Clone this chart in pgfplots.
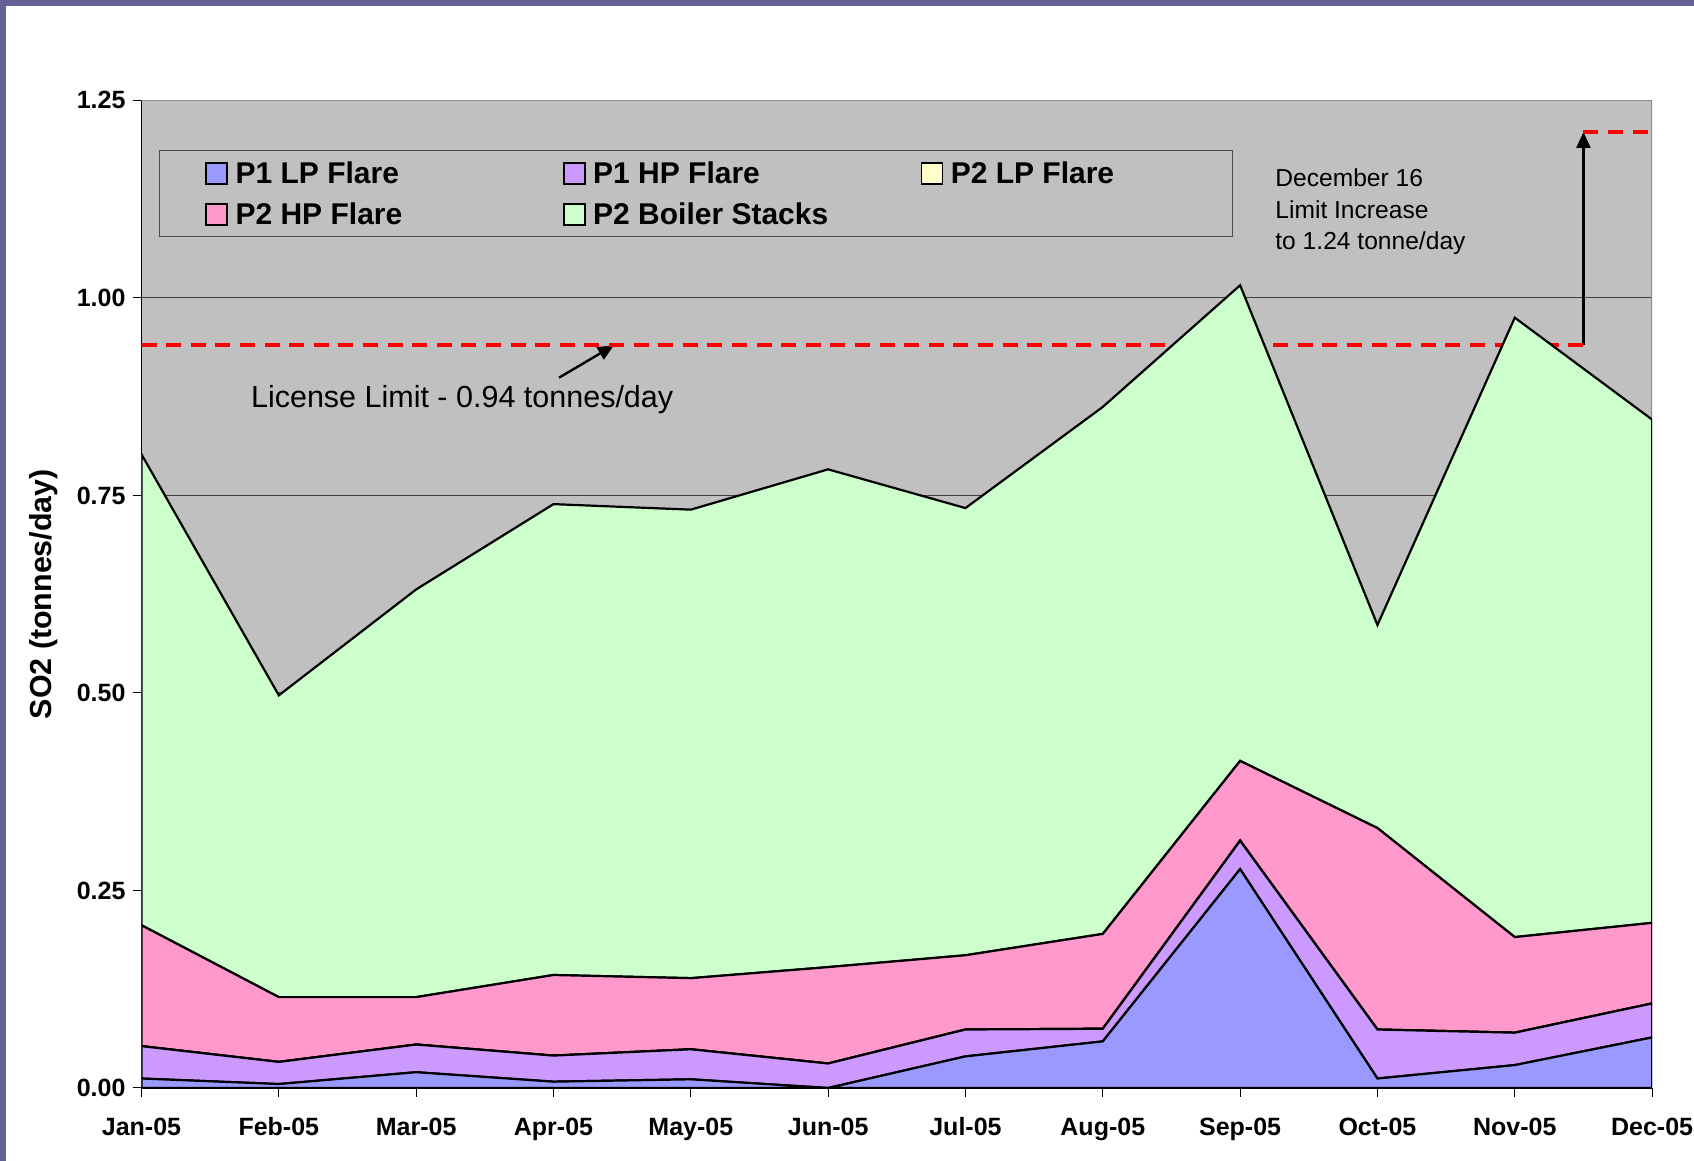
\documentclass[border=0pt]{standalone}
\usepackage{fontspec}
\setmainfont{Liberation Sans}
\usepackage{pgfplots}
\pgfplotsset{compat=1.18}
\usetikzlibrary{arrows.meta}
\definecolor{frameblue}{RGB}{98,98,150}
\definecolor{plotgray}{RGB}{192,192,192}
\definecolor{c1}{RGB}{153,153,255}
\definecolor{c2}{RGB}{204,153,255}
\definecolor{c3}{RGB}{255,255,204}
\definecolor{c4}{RGB}{255,153,204}
\definecolor{c5}{RGB}{204,255,204}
\newcommand{\ann}{\fontsize{15.25}{18}\selectfont}
\begin{document}
\begin{tikzpicture}
\path[use as bounding box] (0,0) rectangle (847pt,580.5pt);
\fill[white] (0,0) rectangle (847pt,580.5pt);
\fill[frameblue] (0,577.5pt) rectangle (847pt,580.5pt);
\fill[frameblue] (0,0) rectangle (3pt,580.5pt);
\begin{axis}[
  at={(70.75pt,36.5pt)}, anchor=south west,
  scale only axis, width=755.3pt, height=493.8pt,
  xmin=0, xmax=11, ymin=0, ymax=1.25,
  axis background/.style={fill=plotgray},
  axis x line*=bottom, axis y line*=left,
  axis line style={black, line width=0.8pt},
  xtick={0,...,11},
  xticklabels={Jan-05,Feb-05,Mar-05,Apr-05,May-05,Jun-05,Jul-05,Aug-05,Sep-05,Oct-05,Nov-05,Dec-05},
  ytick={0,0.25,0.5,0.75,1,1.25},
  yticklabel style={/pgf/number format/.cd, fixed, fixed zerofill, precision=2, assume math mode=true},
  tick align=outside, major tick length=4.5pt,
  tick style={black, line width=0.5pt},
  ticklabel style={font=\bfseries\fontsize{12.5}{14}\selectfont},
  xticklabel style={text height=9pt, text depth=2.6pt, yshift=-6.5pt},
  ymajorgrids, grid style={black!75, line width=0.5pt},
  ylabel={SO2 (tonnes/day)},
  every axis y label/.style={at={(axis description cs:-0.0649,0.5)}, rotate=90, anchor=center, font=\bfseries\fontsize{15.2}{17}\selectfont},
  stack plots=y,
  legend columns=3,
  legend image code/.code={\draw[#1, draw=black, line width=0.8pt] (0pt,-5.25pt) rectangle (10.5pt,5.25pt);},
  legend style={at={(rel axis cs:0.01145,0.9496)}, anchor=north west, fill=plotgray, draw=black!70, line width=0.6pt,
    font=\bfseries\fontsize{15}{17}\selectfont, inner xsep=23pt, inner ysep=1pt, /tikz/column sep=0pt, row sep=0pt,
    nodes={inner xsep=3.8pt, inner ysep=3.25pt, text height=12.3pt, text depth=1.7pt}},
  legend cell align=left,
]
\addplot[fill=c1, draw=black, line width=1.1pt] coordinates {(0,0.012)(1,0.005)(2,0.020)(3,0.008)(4,0.011)(5,0.0)(6,0.040)(7,0.059)(8,0.277)(9,0.012)(10,0.029)(11,0.064)} \closedcycle;
\addlegendentry{\makebox[159.9pt][l]{P1 LP Flare}}
\addplot[fill=c2, draw=black, line width=1.1pt] coordinates {(0,0.041)(1,0.028)(2,0.035)(3,0.033)(4,0.038)(5,0.031)(6,0.034)(7,0.016)(8,0.036)(9,0.062)(10,0.041)(11,0.043)} \closedcycle;
\addlegendentry{\makebox[159.9pt][l]{P1 HP Flare}}
\addplot[fill=c3, draw=black, line width=1.1pt] coordinates {(0,0)(1,0)(2,0)(3,0)(4,0)(5,0)(6,0)(7,0)(8,0)(9,0)(10,0)(11,0)} \closedcycle;
\addlegendentry{\makebox[113.9pt][l]{P2 LP Flare}}
\addplot[fill=c4, draw=black, line width=1.1pt] coordinates {(0,0.153)(1,0.082)(2,0.060)(3,0.102)(4,0.090)(5,0.122)(6,0.094)(7,0.120)(8,0.101)(9,0.255)(10,0.121)(11,0.102)} \closedcycle;
\addlegendentry{\makebox[159.9pt][l]{P2 HP Flare}}
\addplot[fill=c5, draw=black, line width=1.1pt] coordinates {(0,0.596)(1,0.382)(2,0.516)(3,0.596)(4,0.593)(5,0.630)(6,0.566)(7,0.667)(8,0.602)(9,0.257)(10,0.784)(11,0.637)} \closedcycle;
\addlegendentry{\makebox[159.9pt][l]{P2 Boiler Stacks}}
% frame top/right
\draw[black!45, line width=1pt] (rel axis cs:0,1) -- (rel axis cs:1,1) -- (rel axis cs:1,0);
% license limit
\draw[red, line width=2pt, dash pattern=on 7.5pt off 4.8pt] (axis cs:0,0.94) -- (axis cs:10.5,0.94);
\draw[red, line width=2pt, dash pattern=on 7.5pt off 4.8pt] (axis cs:10.5,1.21) -- (axis cs:11,1.21);
\draw[black, line width=1.2pt, -{Triangle[length=8pt,width=7pt]}] (axis cs:10.5,0.94) -- (axis cs:10.5,1.21);
\draw[black, line width=1.2pt, -{Triangle[length=8pt,width=7pt]}] (axis cs:3.04,0.899) -- (axis cs:3.44,0.94);
\draw[black, line width=1.2pt, -{Triangle[length=8pt,width=7pt]}] (axis cs:6.90,0.351) -- (axis cs:7.90,0.272);
\draw[black, line width=1.2pt, -{Triangle[length=8pt,width=7pt]}] (axis cs:3.863,0.206) -- (axis cs:4.989,0.0123);
% annotations
\node[anchor=base west, inner sep=0pt, font=\ann] at (axis cs:0.795,0.861) {License Limit - 0.94 tonnes/day};
\node[anchor=base west, inner sep=0pt, font=\fontsize{12.3}{14}\selectfont] at (axis cs:8.254,1.141) {December 16};
\node[anchor=base west, inner sep=0pt, font=\fontsize{12.3}{14}\selectfont] at (axis cs:8.254,1.101) {Limit Increase};
\node[anchor=base west, inner sep=0pt, font=\fontsize{12.3}{14}\selectfont] at (axis cs:8.254,1.061) {to 1.24 tonne/day};
\node[anchor=base west, inner sep=0pt, font=\ann] at (axis cs:8.262,0.5246) {Fall Turnaround};
\node[anchor=base west, inner sep=0pt, font=\ann] at (axis cs:0.252,0.4508) {Production Cutback};
\node[anchor=base west, inner sep=0pt, font=\ann] at (axis cs:3.918,0.4303) {Measured 3.4\% H\textsubscript{2}S in P1};
\node[anchor=base west, inner sep=0pt, font=\ann] at (axis cs:3.918,0.3784) {LP Flare w/ high purge volume};
\node[anchor=base west, inner sep=0pt, font=\ann] at (axis cs:1.385,0.3115) {Regulator Problems in};
\node[anchor=base west, inner sep=0pt, font=\ann] at (axis cs:1.385,0.2650) {P1 LP Flare Blanket Gas};
\node[anchor=base west, inner sep=0pt, font=\ann] at (axis cs:1.385,0.2172) {System Began};
\end{axis}
\end{tikzpicture}
\end{document}
